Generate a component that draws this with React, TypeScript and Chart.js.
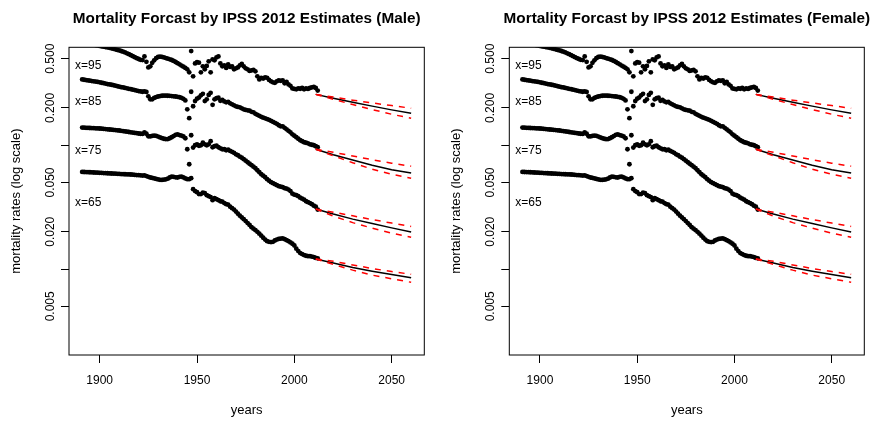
import { useEffect, useRef } from 'react';
import { Chart, registerables } from 'chart.js';

Chart.register(...registerables);

const FONT = '"Liberation Sans", Arial, Helvetica, sans-serif';

// observed death rates, one value per calendar year starting at firstYear
const firstYear = 1891;

const rate95 = [
  0.683, 0.677, 0.671, 0.665, 0.660, 0.655, 0.650, 0.645, 0.640, 0.634,
  0.629, 0.625, 0.621, 0.617, 0.613, 0.607, 0.601, 0.595, 0.589, 0.583,
  0.577, 0.570, 0.562, 0.553, 0.544, 0.534, 0.524, 0.514, 0.505, 0.497,
  0.490, 0.487, 0.522, 0.472, 0.425, 0.434, 0.463, 0.485, 0.505, 0.516,
  0.519, 0.517, 0.512, 0.506, 0.500, 0.494, 0.488, 0.480, 0.470, 0.460,
  0.450, 0.440, 0.431, 0.421, 0.410, 0.388, 0.576, 0.360, 0.458, 0.469,
  0.464, 0.388, 0.434, 0.410, 0.437, 0.476, 0.388, 0.494, 0.485, 0.512,
  0.522, 0.458, 0.434, 0.442, 0.421, 0.450, 0.429, 0.434, 0.410, 0.418,
  0.425, 0.442, 0.454, 0.434, 0.418, 0.410, 0.398, 0.402, 0.406, 0.395,
  0.360, 0.340, 0.350, 0.346, 0.353, 0.350, 0.337, 0.328, 0.322, 0.319,
  0.328, 0.334, 0.331, 0.334, 0.316, 0.325, 0.310, 0.302, 0.2875, 0.285,
  0.283, 0.2875, 0.286, 0.290, 0.283, 0.2875, 0.285, 0.290, 0.293, 0.296,
  0.290, 0.2765,
];

const rate85 = [
  0.340, 0.338, 0.336, 0.334, 0.332, 0.330, 0.3285, 0.327, 0.3245, 0.322,
  0.3195, 0.317, 0.315, 0.312, 0.310, 0.308, 0.3055, 0.303, 0.300, 0.297,
  0.2945, 0.293, 0.2905, 0.288, 0.2855, 0.2835, 0.281, 0.279, 0.2765, 0.274,
  0.272, 0.2705, 0.272, 0.2695, 0.2485, 0.235, 0.235, 0.241, 0.245, 0.2475,
  0.2495, 0.251, 0.2515, 0.2515, 0.251, 0.2505, 0.2495, 0.2485, 0.2475, 0.246,
  0.244, 0.2415, 0.237, 0.230, 0.195, 0.1655, 0.2705, 0.2065, 0.2275, 0.2375,
  0.2425, 0.253, 0.260, 0.2275, 0.235, 0.255, 0.265, 0.212, 0.235, 0.2395,
  0.2418, 0.2283, 0.2328, 0.226, 0.222, 0.224, 0.218, 0.214, 0.210, 0.206,
  0.204, 0.2024, 0.1987, 0.195, 0.193, 0.1915, 0.190, 0.186, 0.1845, 0.1794,
  0.176, 0.1728, 0.1696, 0.167, 0.165, 0.1626, 0.1605, 0.1575, 0.1546, 0.1518,
  0.149, 0.145, 0.1422, 0.1422, 0.1383, 0.1345, 0.1308, 0.1272, 0.1226, 0.1193,
  0.116, 0.1128, 0.1097, 0.1077, 0.1057, 0.1047, 0.1037, 0.1018, 0.1009, 0.09995,
  0.0981, 0.0963,
];

const rate75 = [
  0.1388, 0.1386, 0.1383, 0.1381, 0.1378, 0.1376, 0.1373, 0.1370, 0.1368, 0.1365,
  0.1360, 0.1355, 0.1350, 0.1345, 0.1340, 0.1335, 0.1330, 0.1325, 0.1320, 0.1315,
  0.1308, 0.1301, 0.1294, 0.1287, 0.1279, 0.1272, 0.1265, 0.1258, 0.1251, 0.1244,
  0.1238, 0.1235, 0.1272, 0.1238, 0.1182, 0.1178, 0.1191, 0.1195, 0.1191, 0.1175,
  0.1156, 0.1141, 0.1128, 0.1119, 0.1121, 0.1139, 0.1160, 0.1186, 0.1213, 0.1222,
  0.1208, 0.1195, 0.1178, 0.1139, 0.0928, 0.0702, 0.1204, 0.0958, 0.1000, 0.1018,
  0.0990, 0.1000, 0.1047, 0.1018, 0.1000, 0.1018, 0.1077, 0.0963, 0.0981, 0.0990,
  0.0963, 0.0945, 0.0928, 0.0928, 0.0911, 0.0920, 0.0899, 0.0885, 0.0869, 0.0845,
  0.0830, 0.0808, 0.0792, 0.0771, 0.0750, 0.0729, 0.0709, 0.0690, 0.0671, 0.0652,
  0.0628, 0.0606, 0.0583, 0.0568, 0.0552, 0.0532, 0.0517, 0.0503, 0.0494, 0.0485,
  0.0476, 0.0467, 0.0463, 0.0458, 0.0450, 0.0446, 0.0438, 0.0426, 0.0406, 0.0399,
  0.0395, 0.0388, 0.0377, 0.0370, 0.0363, 0.0353, 0.0347, 0.0341, 0.0334, 0.0325,
  0.0319, 0.0302,
];

const rate65 = [
  0.0609, 0.0608, 0.0607, 0.0606, 0.0605, 0.0604, 0.0602, 0.0601, 0.0600, 0.0599,
  0.0598, 0.0596, 0.0595, 0.0594, 0.0592, 0.0591, 0.0590, 0.0589, 0.0588, 0.0587,
  0.0585, 0.0584, 0.0583, 0.0582, 0.0581, 0.0580, 0.0578, 0.0576, 0.0574, 0.0573,
  0.0571, 0.0569, 0.0570, 0.0564, 0.0556, 0.0549, 0.0544, 0.0539, 0.0534, 0.0529,
  0.0526, 0.0525, 0.0527, 0.0530, 0.0537, 0.0549, 0.0557, 0.0556, 0.0551, 0.0549,
  0.0556, 0.0558, 0.0550, 0.0539, 0.0532, 0.0532, 0.0542, 0.0442, 0.0426, 0.0418,
  0.0403, 0.0403, 0.0414, 0.0410, 0.0395, 0.0388, 0.0381, 0.0360, 0.0374, 0.0367,
  0.0360, 0.0353, 0.0350, 0.0341, 0.0334, 0.0331, 0.0319, 0.0310, 0.0302, 0.0291,
  0.0280, 0.0270, 0.0261, 0.0253, 0.0244, 0.0235, 0.0227, 0.0218, 0.0212, 0.0206,
  0.0200, 0.0193, 0.0186, 0.0179, 0.0173, 0.0168, 0.0166, 0.0165, 0.0166, 0.0170,
  0.0173, 0.0175, 0.0176, 0.0177, 0.01744, 0.0171, 0.0168, 0.0164, 0.0160, 0.0155,
  0.0146, 0.01396, 0.01345, 0.0132, 0.01296, 0.0128, 0.0127, 0.0127, 0.0126, 0.01249,
  0.0123, 0.0122,
];

// projected rates (central, high and low variants)
const forecastYears = [2011, 2020, 2030, 2040, 2050, 2060];

const mid95 = [0.2575, 0.2395, 0.222, 0.207, 0.193, 0.181];
const high95 = [0.2575, 0.245, 0.231, 0.2195, 0.209, 0.199];
const low95 = [0.2575, 0.235, 0.213, 0.194, 0.178, 0.165];

const mid85 = [0.0928, 0.0838, 0.076, 0.069, 0.0634, 0.0596];
const high85 = [0.0928, 0.0877, 0.0818, 0.0764, 0.0716, 0.0677];
const low85 = [0.0928, 0.0822, 0.0722, 0.064, 0.0583, 0.0542];

const mid75 = [0.0305, 0.0278, 0.0253, 0.0233, 0.0215, 0.0199];
const high75 = [0.0305, 0.0288, 0.0269, 0.0251, 0.0235, 0.0221];
const low75 = [0.0305, 0.0268, 0.0237, 0.0214, 0.0195, 0.0181];

const mid65 = [0.01204, 0.0112, 0.0103, 0.0096, 0.00902, 0.0085];
const high65 = [0.01204, 0.01155, 0.0108, 0.0101, 0.00954, 0.00907];
const low65 = [0.01204, 0.0109, 0.0098, 0.00893, 0.00834, 0.00782];

// age annotations placed inside the plot
const ageLabels = ['x=95', 'x=85', 'x=75', 'x=65'];
const ageLabelRates = [0.442, 0.226, 0.0911, 0.0341];
const ageLabelYear = 1887.3;

// axes
const xTicks = [1900, 1950, 2000, 2050];
const yTicks = [0.5, 0.2, 0.1, 0.05, 0.02, 0.01, 0.005];
const yTickLabels = ['0.500', '0.200', '', '0.050', '0.020', '', '0.005'];
const xMin = 1884.24;
const xMax = 2066.76;
const yMin = 0.002022;
const yMax = 0.618;

const observed = [rate95, rate85, rate75, rate65];
const projections = [
  { mid: mid95, high: high95, low: low95 },
  { mid: mid85, high: high85, low: low85 },
  { mid: mid75, high: high75, low: low75 },
  { mid: mid65, high: high65, low: low65 },
];

const CANVAS_W = 435;
const CANVAS_H = 421;
const Y_AXIS_W = 50;
const X_AXIS_H = 40;

const panelDecor = {
  id: 'panelDecor',
  afterDraw(chart: any, _args: any, opts: any) {
    const { ctx, chartArea: a, scales } = chart;
    const xs = scales.x;
    const ys = scales.y;
    const cx = (a.left + a.right) / 2;
    const cy = (a.top + a.bottom) / 2;
    ctx.save();

    ctx.strokeStyle = '#000';
    ctx.lineWidth = 1;
    ctx.strokeRect(a.left, a.top, a.right - a.left, a.bottom - a.top);

    ctx.fillStyle = '#000';
    ctx.textAlign = 'center';
    ctx.textBaseline = 'alphabetic';

    ctx.font = `bold 15.3px ${FONT}`;
    ctx.fillText(opts.title, cx, 23);

    ctx.font = `12px ${FONT}`;
    xTicks.forEach((v) => {
      ctx.fillText(String(v), xs.getPixelForValue(v), a.bottom + 29.3);
    });

    ctx.font = `13px ${FONT}`;
    ctx.fillText('years', cx, a.bottom + 58.5);

    ctx.font = `12px ${FONT}`;
    yTicks.forEach((v, i) => {
      const label = yTickLabels[i];
      if (!label) return;
      ctx.save();
      ctx.translate(a.left - 15, ys.getPixelForValue(v));
      ctx.rotate(-Math.PI / 2);
      ctx.fillText(label, 0, 0);
      ctx.restore();
    });

    ctx.font = `13px ${FONT}`;
    ctx.save();
    ctx.translate(a.left - 49, cy);
    ctx.rotate(-Math.PI / 2);
    ctx.fillText('mortality rates (log scale)', 0, 0);
    ctx.restore();

    ctx.font = `12px ${FONT}`;
    ctx.textAlign = 'left';
    ctx.textBaseline = 'middle';
    ageLabels.forEach((t, i) => {
      ctx.fillText(t, xs.getPixelForValue(ageLabelYear), ys.getPixelForValue(ageLabelRates[i]));
    });

    ctx.restore();
  },
};

function Panel({ title, left, plotLeft, plotRight }: { title: string; left: number; plotLeft: number; plotRight: number }) {
  const ref = useRef<HTMLCanvasElement>(null);

  useEffect(() => {
    const canvas = ref.current;
    if (!canvas) return;

    const datasets: any[] = [];
    observed.forEach((rates) => {
      datasets.push({
        data: rates.map((v, i) => ({ x: firstYear + i, y: v })),
        showLine: false,
        pointRadius: 2.4,
        pointBackgroundColor: '#000',
        pointBorderWidth: 0,
        order: 2,
      });
    });
    projections.forEach((p) => {
      const toPts = (vals: number[]) => vals.map((v, i) => ({ x: forecastYears[i], y: v }));
      datasets.push({
        data: toPts(p.mid),
        showLine: true,
        borderColor: '#000',
        borderWidth: 1.5,
        pointRadius: 0,
        tension: 0,
        order: 1,
      });
      [p.high, p.low].forEach((vals) => {
        datasets.push({
          data: toPts(vals),
          showLine: true,
          borderColor: '#ff0000',
          borderWidth: 1.5,
          borderDash: [6, 6],
          pointRadius: 0,
          tension: 0,
          order: 0,
        });
      });
    });

    const chart = new Chart(canvas, {
      type: 'scatter',
      data: { datasets },
      options: {
        animation: false,
        responsive: false,
        devicePixelRatio: 1,
        events: [],
        layout: {
          padding: {
            left: plotLeft - Y_AXIS_W,
            right: CANVAS_W - plotRight,
            top: 47.3,
            bottom: CANVAS_H - 355 - X_AXIS_H,
          },
        },
        plugins: {
          legend: { display: false },
          tooltip: { enabled: false },
          title: { display: false },
          panelDecor: { title },
        } as any,
        scales: {
          x: {
            type: 'linear',
            min: xMin,
            max: xMax,
            afterBuildTicks: (s: any) => {
              s.ticks = xTicks.map((v) => ({ value: v }));
            },
            afterFit: (s: any) => {
              s.height = X_AXIS_H;
            },
            ticks: { display: false },
            grid: { display: true, drawOnChartArea: false, drawTicks: true, tickLength: 8, color: '#000', lineWidth: 1 },
            border: { display: false },
          },
          y: {
            type: 'logarithmic',
            min: yMin,
            max: yMax,
            afterBuildTicks: (s: any) => {
              s.ticks = yTicks.map((v) => ({ value: v }));
            },
            afterFit: (s: any) => {
              s.width = Y_AXIS_W;
            },
            ticks: { display: false },
            grid: { display: true, drawOnChartArea: false, drawTicks: true, tickLength: 8, color: '#000', lineWidth: 1 },
            border: { display: false },
          },
        },
      },
      plugins: [panelDecor],
    });

    return () => chart.destroy();
  }, [title, plotLeft, plotRight]);

  return (
    <div style={{ position: 'absolute', left, top: 0, width: CANVAS_W, height: CANVAS_H }}>
      <canvas ref={ref} width={CANVAS_W} height={CANVAS_H} style={{ display: 'block', width: CANVAS_W, height: CANVAS_H }} />
    </div>
  );
}

export default function App() {
  return (
    <div style={{ position: 'absolute', left: 0, top: 0, width: 870, height: 421, background: '#fff', overflow: 'hidden' }}>
      <Panel title="Mortality Forcast by IPSS 2012 Estimates (Male)" left={0} plotLeft={69} plotRight={424.3} />
      {/* the female panel is drawn from the same rate tables */}
      <Panel title="Mortality Forcast by IPSS 2012 Estimates (Female)" left={435} plotLeft={74.3} plotRight={429.3} />
    </div>
  );
}
